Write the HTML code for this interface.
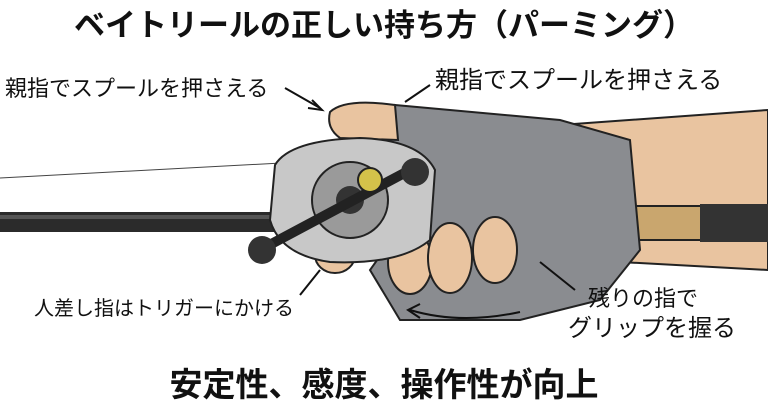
<!DOCTYPE html>
<html><head><meta charset="utf-8">
<style>
html,body{margin:0;padding:0;background:#fff;width:768px;height:419px;overflow:hidden}
svg{display:block}
text{font-family:"Liberation Sans","Noto Sans CJK JP",sans-serif;fill:#111}
</style></head><body>
<svg width="768" height="419" viewBox="0 0 768 419" xmlns="http://www.w3.org/2000/svg">
<rect width="768" height="419" fill="#fff"/>
<line x1="0" y1="178" x2="300" y2="162" stroke="#444" stroke-width="1"/>
<path d="M560 125 L768 110 L768 270 L620 262 Z" fill="#e9c4a0" stroke="#222" stroke-width="2"/>
<rect x="0" y="212" width="768" height="20" fill="#2b2b2b"/>
<rect x="0" y="215" width="768" height="4" fill="#555"/>
<rect x="440" y="206" width="270" height="34" rx="6" fill="#c9a66e" stroke="#222" stroke-width="2"/>
<rect x="700" y="204" width="68" height="38" fill="#333"/>
<path d="M395 105 L560 120 L630 140 L640 250 L600 300 L520 320 L400 320 L370 270 L420 200 L385 170 Z" fill="#8a8c90" stroke="#222" stroke-width="2"/>
<path d="M330 112 Q345 98 395 105 L398 140 L340 138 Q326 128 330 112 Z" fill="#e9c4a0" stroke="#222" stroke-width="2"/>
<ellipse cx="410" cy="262" rx="22" ry="32" fill="#e9c4a0" stroke="#222" stroke-width="2"/>
<ellipse cx="450" cy="258" rx="22" ry="35" fill="#e9c4a0" stroke="#222" stroke-width="2"/>
<ellipse cx="495" cy="250" rx="22" ry="33" fill="#e9c4a0" stroke="#222" stroke-width="2"/>
<ellipse cx="335" cy="255" rx="20" ry="18" fill="#e9c4a0" stroke="#222" stroke-width="2"/>
<path d="M275 165 Q290 140 360 138 Q420 140 435 170 L430 240 Q400 265 330 262 Q280 255 270 220 Z" fill="#c8c8c8" stroke="#222" stroke-width="2"/>
<circle cx="350" cy="200" r="38" fill="#9a9a9a" stroke="#222" stroke-width="2"/>
<circle cx="350" cy="200" r="14" fill="#333"/>
<path d="M260 250 L410 170" stroke="#222" stroke-width="10"/>
<circle cx="262" cy="250" r="14" fill="#333"/><circle cx="415" cy="172" r="14" fill="#333"/>
<circle cx="370" cy="180" r="12" fill="#d4c24a" stroke="#222" stroke-width="2"/>
<path d="M285 88 L320 108" stroke="#111" stroke-width="2" fill="none"/>
<path d="M312 100 L322 110 L308 108" stroke="#111" stroke-width="2" fill="none"/>
<path d="M430 85 L405 102" stroke="#111" stroke-width="2" fill="none"/>
<path d="M300 295 L320 270" stroke="#111" stroke-width="2" fill="none"/>
<path d="M575 290 L540 262" stroke="#111" stroke-width="2" fill="none"/>
<path d="M410 310 Q460 325 520 312" stroke="#111" stroke-width="2" fill="none"/>
<path d="M420 304 L408 310 L420 318" stroke="#111" stroke-width="2" fill="none"/>
<text x="384" y="36" font-size="31" font-weight="bold" text-anchor="middle">ベイトリールの正しい持ち方（パーミング）</text>
<text x="5" y="96" font-size="22">親指でスプールを押さえる</text>
<text x="435" y="88" font-size="24">親指でスプールを押さえる</text>
<text x="34" y="315" font-size="20">人差し指はトリガーにかける</text>
<text x="588" y="306" font-size="22">残りの指で</text>
<text x="568" y="336" font-size="24">グリップを握る</text>
<text x="384" y="396" font-size="33" font-weight="bold" text-anchor="middle">安定性、感度、操作性が向上</text>
</svg>
</body></html>
